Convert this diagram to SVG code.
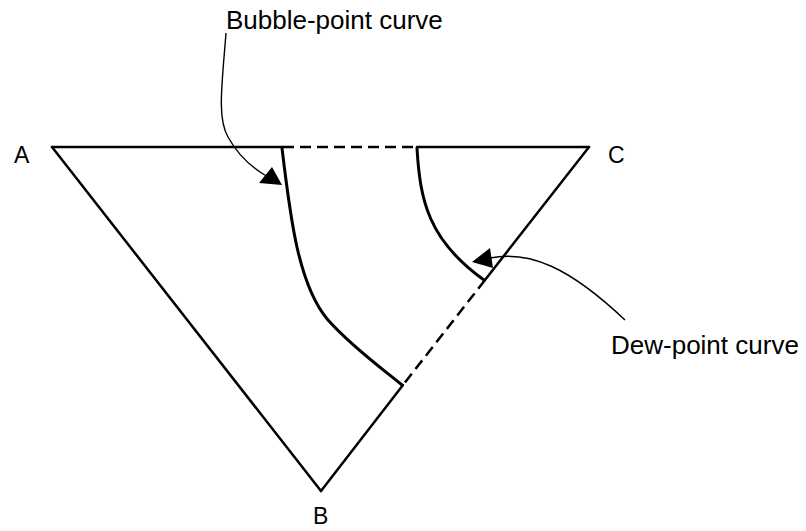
<svg xmlns="http://www.w3.org/2000/svg" width="806" height="531" viewBox="0 0 806 531">
<style>
.edge{stroke:#000;stroke-width:2.5;fill:none;stroke-linecap:round}
.dash{stroke:#000;stroke-width:2.5;fill:none;stroke-dasharray:11 6}
.curve{stroke:#000;stroke-width:3;fill:none;stroke-linecap:round}
.leader{stroke:#000;stroke-width:1.4;fill:none}
.lbl{font-family:"Liberation Sans",Arial,sans-serif;font-size:26px;fill:#000}
.vtx{font-family:"Liberation Sans",Arial,sans-serif;font-size:23px;fill:#000}
</style>
<rect width="806" height="531" fill="#fff"/>
<g id="triangle">
<line class="edge" x1="52" y1="147" x2="283" y2="147"/>
<line class="dash" x1="283" y1="147" x2="417" y2="147"/>
<line class="edge" x1="417" y1="147" x2="589" y2="147"/>
<line class="edge" x1="589" y1="147" x2="485" y2="280"/>
<line class="dash" x1="485" y1="280" x2="403" y2="385"/>
<line class="edge" x1="403" y1="385" x2="321" y2="491"/>
<line class="edge" x1="52" y1="147" x2="321" y2="491"/>
</g>
<g id="vertex-A"><text class="vtx" x="14" y="163">A</text></g>
<g id="vertex-B"><text class="vtx" x="313" y="524">B</text></g>
<g id="vertex-C"><text class="vtx" x="608" y="163">C</text></g>
<g id="bubble-point-curve">
<path class="curve" d="M282,148 C290,215 298,285 328,320 C352,347 384,370 402,385"/>
</g>
<g id="dew-point-curve">
<path class="curve" d="M417,148 C420,200 428,240 484,280"/>
</g>
<g id="connectors">
<path class="leader" d="M226,33 C222,85 217,118 228,137 C239,157 252,168 268,177"/>
<polygon points="282,185 259,183 272,167" fill="#000"/>
<path class="leader" d="M490,258 C530,250 570,268 625,320"/>
<polygon points="472,262 490,248 493,268" fill="#000"/>
</g>
<g id="label-bubble"><text class="lbl" x="226" y="29">Bubble-point curve</text></g>
<g id="label-dew"><text class="lbl" x="611" y="354">Dew-point curve</text></g>
</svg>
